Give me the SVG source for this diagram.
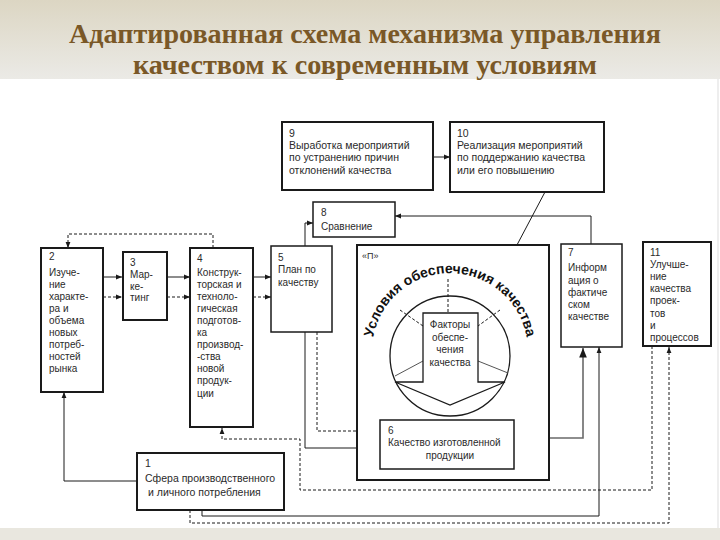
<svg xmlns="http://www.w3.org/2000/svg" width="720" height="540" viewBox="0 0 720 540">
<defs>
<linearGradient id="band" x1="0" y1="0" x2="0" y2="1">
<stop offset="0" stop-color="#dcd6c3"/>
<stop offset="1" stop-color="#ebeae6"/>
</linearGradient>
<marker id="ah" viewBox="0 0 10 10" refX="10" refY="5" markerWidth="6" markerHeight="6" orient="auto-start-reverse">
<path d="M0,1 L10,5 L0,9 z" fill="#1a1a1a"/>
</marker>
<path id="arcText" d="M373.5,336 A78,78 0 0,1 526.5,336"/>
</defs>
<style>
.box{fill:#fff;stroke:#1a1a1a;stroke-width:2}
.boxm{fill:#fff;stroke:#1a1a1a;stroke-width:1.5}
.t{font-family:"Liberation Sans",Arial,sans-serif;font-size:10px;fill:#2a2a2a}
.t9{font-family:"Liberation Sans",Arial,sans-serif;font-size:10.5px;fill:#2a2a2a}
.c{fill:none;stroke:#1a1a1a;stroke-width:1}
.d{fill:none;stroke:#1a1a1a;stroke-width:1;stroke-dasharray:3,2}
.g{fill:none;stroke:#6a6a6a;stroke-width:1.6}
.title{font-family:"Liberation Serif","Times New Roman",serif;font-weight:bold;font-size:27px;fill:#7a5827}
</style>
<rect x="0" y="0" width="720" height="540" fill="#fff"/>
<rect x="0" y="0" width="720" height="79" fill="url(#band)"/>
<rect x="0" y="528" width="720" height="12" fill="#e9e7df"/>
<line x1="718" y1="79" x2="718" y2="528" stroke="#dddddd" stroke-width="1"/>
<g id="title">
<text class="title" x="365" y="43" text-anchor="middle" textLength="592" lengthAdjust="spacingAndGlyphs">Адаптированная схема механизма управления</text>
<text class="title" x="365" y="74" text-anchor="middle" textLength="464" lengthAdjust="spacingAndGlyphs">качеством к современным условиям</text>
</g>

<g id="connectors">
<path class="c" d="M433,157 H450" marker-end="url(#ah)"/>
<path class="c" d="M545,192 L481,313" marker-end="url(#ah)"/>
<path class="c" d="M591,244 V216 H395" marker-end="url(#ah)"/>
<path class="c" d="M380,448 H305 V223 H313" marker-start="url(#ah)" marker-end="url(#ah)"/>
<path class="d" d="M317,332 V431 H380" marker-end="url(#ah)"/>
<path class="c" d="M103,277 H122" marker-end="url(#ah)"/>
<path class="d" d="M103,297 H122" marker-end="url(#ah)"/>
<path class="c" d="M167,277 H190" marker-end="url(#ah)"/>
<path class="d" d="M167,297 H190" marker-end="url(#ah)"/>
<path class="c" d="M253,277 H271" marker-end="url(#ah)"/>
<path class="d" d="M253,297 H271" marker-end="url(#ah)"/>
<path class="d" d="M213,248 V234 H68 V248" marker-end="url(#ah)"/>
<path class="c" d="M137,481 H64 V392" marker-end="url(#ah)"/>
<path class="d" d="M652,346 V490 H300 V439 H222 V428" marker-end="url(#ah)"/>
<path class="d" d="M190,510 V523 H669 V347" marker-end="url(#ah)"/>
<path class="c" d="M202,510 V516 H599 V347" marker-end="url(#ah)"/>
<path class="g" d="M514,438 H583 V348" marker-end="url(#ah)"/>
</g>

<g id="n9">
<rect class="box" x="282" y="122" width="151" height="68"/>
<text class="t9" x="289" y="137">9</text>
<text class="t9" x="289" y="149">Выработка мероприятий</text>
<text class="t9" x="289" y="161">по устранению причин</text>
<text class="t9" x="289" y="174">отклонений качества</text>
</g>
<g id="n10">
<rect class="box" x="450" y="122" width="154" height="70"/>
<text class="t9" x="457" y="137">10</text>
<text class="t9" x="457" y="149">Реализация мероприятий</text>
<text class="t9" x="457" y="161">по поддержанию качества</text>
<text class="t9" x="457" y="174">или его повышению</text>
</g>
<g id="n8">
<rect class="boxm" x="313" y="202" width="82" height="35"/>
<text class="t" x="321" y="216">8</text>
<text class="t" x="321" y="230">Сравнение</text>
</g>
<g id="n2">
<rect class="box" x="41" y="248" width="62" height="144"/>
<text class="t" x="49" y="260">2</text>
<text class="t" x="49" y="276">Изуче-</text>
<text class="t" x="49" y="288">ние</text>
<text class="t" x="49" y="300">характе-</text>
<text class="t" x="49" y="312">ра  и</text>
<text class="t" x="49" y="324">объема</text>
<text class="t" x="49" y="336">новых</text>
<text class="t" x="49" y="348">потреб-</text>
<text class="t" x="49" y="360">ностей</text>
<text class="t" x="49" y="372">рынка</text>
</g>
<g id="n3">
<rect class="box" x="123" y="252" width="44" height="68"/>
<text class="t" x="130" y="266">3</text>
<text class="t" x="130" y="278">Мар-</text>
<text class="t" x="130" y="290">ке-</text>
<text class="t" x="130" y="301">тинг</text>
</g>
<g id="n4">
<rect class="box" x="190" y="248" width="63" height="179"/>
<text class="t" x="197" y="262">4</text>
<text class="t" x="197" y="276">Конструк-</text>
<text class="t" x="197" y="288">торская и</text>
<text class="t" x="197" y="300">техноло-</text>
<text class="t" x="197" y="312">гическая</text>
<text class="t" x="197" y="324">подготов-</text>
<text class="t" x="197" y="336">ка</text>
<text class="t" x="197" y="348">производ-</text>
<text class="t" x="197" y="360">-ства</text>
<text class="t" x="197" y="372">новой</text>
<text class="t" x="197" y="384">продук-</text>
<text class="t" x="197" y="397">ции</text>
</g>
<g id="n5">
<rect class="boxm" x="271" y="246" width="61" height="86"/>
<text class="t" x="278" y="261">5</text>
<text class="t" x="278" y="273">План по</text>
<text class="t" x="278" y="286">качеству</text>
</g>
<g id="nP">
<rect class="box" x="357" y="245" width="192" height="235"/>
<text class="t" x="362" y="259" style="font-size:9px">«П»</text>
<circle cx="450" cy="356" r="60" fill="#fff" stroke="#1a1a1a" stroke-width="1.3"/>
<path class="d" d="M448,279 V313"/>
<path class="d" d="M400,310 L423,326"/>
<path class="d" d="M500,310 L478,326"/>
<path d="M395,376 L423,361 M478,361 L508,373" fill="none" stroke="#555" stroke-width="1"/>
<polygon points="423,313 478,313 478,382 505,382 450,405 395,382 423,382" fill="#fff" stroke="#1a1a1a" stroke-width="1.3"/>
<text class="t" x="450" y="328" text-anchor="middle">Факторы</text>
<text class="t" x="450" y="341" text-anchor="middle">обеспе-</text>
<text class="t" x="450" y="353" text-anchor="middle">чения</text>
<text class="t" x="450" y="366" text-anchor="middle">качества</text>
<text style="font-family:'Liberation Sans',Arial,sans-serif;font-weight:bold;font-size:14px;fill:#111"><textPath href="#arcText" startOffset="50%" text-anchor="middle">Условия обеспечения качества</textPath></text>
</g>
<g id="n6">
<rect class="boxm" x="380" y="420" width="134" height="49"/>
<text class="t" x="388" y="434">6</text>
<text class="t" x="388" y="446">Качество изготовленной</text>
<text class="t" x="450" y="459" text-anchor="middle">продукции</text>
</g>
<g id="n7">
<rect class="boxm" x="561" y="244" width="61" height="103"/>
<text class="t" x="568" y="256">7</text>
<text class="t" x="568" y="271">Информ</text>
<text class="t" x="568" y="284">ация о</text>
<text class="t" x="568" y="296">фактиче</text>
<text class="t" x="568" y="308">ском</text>
<text class="t" x="568" y="320">качестве</text>
</g>
<g id="n11">
<rect class="box" x="643" y="242" width="68" height="104"/>
<text class="t" x="650" y="256">11</text>
<text class="t" x="650" y="268">Улучше-</text>
<text class="t" x="650" y="280">ние</text>
<text class="t" x="650" y="292">качества</text>
<text class="t" x="650" y="304">проек-</text>
<text class="t" x="650" y="317">тов</text>
<text class="t" x="650" y="329">и</text>
<text class="t" x="650" y="341">процессов</text>
</g>
<g id="n1">
<rect class="box" x="137" y="453" width="147" height="57"/>
<text class="t9" x="145" y="467">1</text>
<text class="t9" x="145" y="482">Сфера производственного</text>
<text class="t9" x="148" y="496">и личного потребления</text>
</g>
</svg>
